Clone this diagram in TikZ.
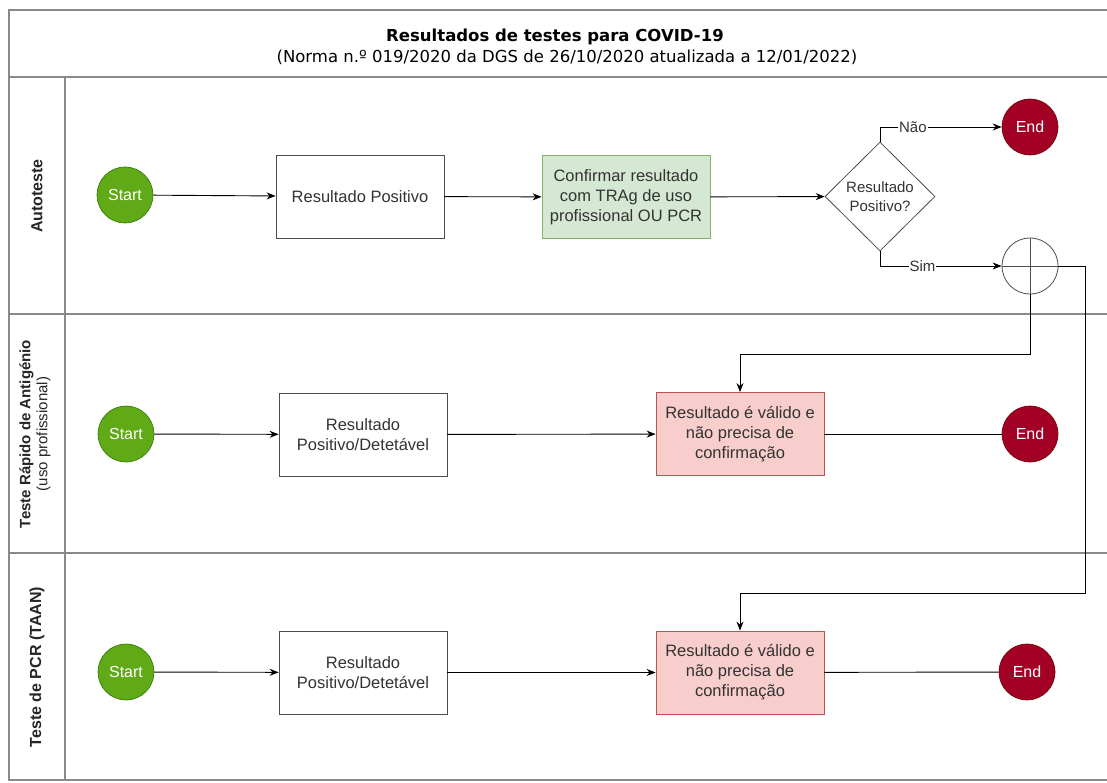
\documentclass[tikz,border=0pt]{standalone}
\usepackage{fontspec}
\setmainfont{Liberation Sans}
\newfontfamily\titlefont{DejaVu Sans}
\usetikzlibrary{arrows.meta,shapes.geometric}
\definecolor{sgreen}{HTML}{60A917}
\definecolor{sgreenD}{HTML}{2D7600}
\definecolor{ered}{HTML}{A20025}
\definecolor{eredD}{HTML}{6F0000}
\definecolor{cgreen}{HTML}{D5E8D4}
\definecolor{cgreenD}{HTML}{82B366}
\definecolor{vpink}{HTML}{F8CECC}
\definecolor{vpinkD}{HTML}{B85450}
\definecolor{frame}{HTML}{8A8A8A}
\begin{document}
\begin{tikzpicture}[x=1pt,y=-1pt,
  lane/.style={draw=frame, line width=1.6pt},
  base/.style={font=\fontsize{16.5}{20}\selectfont, text=black!80, align=center},
  startnode/.style={circle, fill=sgreen, draw=sgreenD, line width=0.6pt, minimum size=56pt, inner sep=0pt, text=white, font=\fontsize{16}{18}\selectfont},
  endnode/.style={startnode, fill=ered, draw=eredD},
  proc/.style={rectangle, draw=black!70, line width=0.8pt, minimum width=168pt, minimum height=83pt, inner sep=2pt, base},
  confirm/.style={proc, fill=cgreen, draw=cgreenD},
  valid/.style={proc, fill=vpink, draw=vpinkD},
  decision/.style={diamond, draw=black!70, line width=0.8pt, minimum width=110pt, minimum height=109pt, inner sep=0pt, font=\fontsize{15}{19}\selectfont, text=black!80, align=center},
  junction/.style={circle, draw=black!70, line width=0.8pt, minimum size=56pt, inner sep=0pt,
    path picture={\draw[black!70, line width=0.8pt] (path picture bounding box.north) -- (path picture bounding box.south) (path picture bounding box.west) -- (path picture bounding box.east);}},
  flow/.style={draw=black, line width=0.9pt, -{Stealth[length=9pt,width=7pt]}},
  plain/.style={draw=black, line width=0.9pt},
  lbl/.style={fill=white, inner sep=1pt, font=\fontsize{15}{18}\selectfont, text=black!80},
  lanehead/.style={rotate=90, align=center, text=black!85}
]
\useasboundingbox (0,0) rectangle (1107,783);
\fill[white] (0,0) rectangle (1107,783);

% frame
\draw[lane] (1107,10) -- (9,10) -- (9,780) -- (1107,780);
\draw[lane] (9,77) -- (1107,77);
\draw[lane] (9,314) -- (1107,314);
\draw[lane] (9,553) -- (1107,553);
\draw[lane] (65,77) -- (65,780);

% title
\node[font=\titlefont\bfseries\fontsize{16.5}{20}\selectfont] (title) at (555,37) {Resultados de testes para COVID-19};
\node[font=\titlefont\fontsize{16.5}{20}\selectfont] (subtitle) at (567,57) {(Norma n.º 019/2020 da DGS de 26/10/2020 atualizada a 12/01/2022)};

% lane headers
\node[lanehead, font=\bfseries\fontsize{16}{19}\selectfont] (h1) at (37,196) {Autoteste};
\node[lanehead, font=\fontsize{15}{17}\selectfont] (h2) at (35,434) {\textbf{Teste Rápido de Antigénio}\\(uso profissional)};
\node[lanehead, font=\bfseries\fontsize{16}{19}\selectfont] (h3) at (37,667) {Teste de PCR (TAAN)};

% lane 1
\node[startnode] (s1) at (125,195) {Start};
\node[proc] (b1) at (360,196.5) {Resultado Positivo};
\node[confirm] (c1) at (626,197) {Confirmar resultado\\com TRAg de uso\\profissional OU PCR};
\node[decision] (d1) at (880,196.5) {Resultado\\Positivo?};
\node[endnode] (e1) at (1030,127) {End};
\node[junction] (j1) at (1030,266) {};

% lane 2
\node[startnode] (s2) at (126,434) {Start};
\node[proc] (b2) at (363,434.5) {Resultado\\Positivo/Detetável};
\node[valid] (v2) at (740,434) {Resultado é válido e\\não precisa de\\confirmação};
\node[endnode] (e2) at (1030,434) {End};

% lane 3
\node[startnode] (s3) at (126,672) {Start};
\node[proc] (b3) at (363,672.5) {Resultado\\Positivo/Detetável};
\node[valid] (v3) at (740,672.5) {Resultado é válido e\\não precisa de\\confirmação};
\node[endnode] (e3) at (1027,672) {End};

\coordinate (k1) at (1085,593);

% connectors
\draw[flow] (s1) -- (b1);
\draw[flow] (b1) -- (c1);
\draw[flow] (c1) -- (d1);
\draw[flow] (d1.north) |- node[lbl, pos=0.635] {Não} (e1);
\draw[flow] (d1.south) |- node[lbl, pos=0.675] {Sim} (j1);
\draw[flow] (j1.south) -- ++(0,60) -| (v2.north);
\draw[flow] (j1.east) -| (k1) -| (v3.north);

\draw[flow] (s2) -- (b2);
\draw[flow] (b2) -- (v2);
\draw[plain] (v2) -- (e2);

\draw[flow] (s3) -- (b3);
\draw[flow] (b3) -- (v3);
\draw[plain] (v3) -- (e3);
\end{tikzpicture}
\end{document}
